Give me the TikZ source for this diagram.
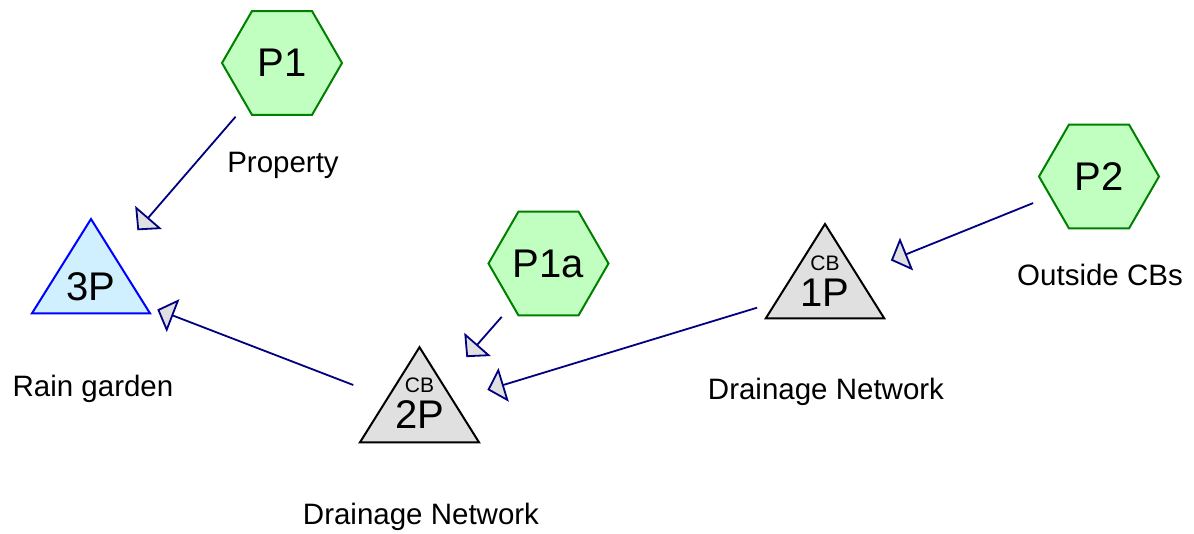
\documentclass[tikz,border=0pt]{standalone}
\usepackage{fontspec}
\setmainfont{Liberation Sans}
\usetikzlibrary{shapes.geometric,arrows.meta}
\definecolor{hexfill}{HTML}{C0FFC0}
\definecolor{hexline}{HTML}{008000}
\definecolor{rgfill}{HTML}{D0F0FF}
\definecolor{rgline}{HTML}{0000FF}
\definecolor{cbfill}{HTML}{E0E0E0}
\definecolor{connline}{HTML}{000080}
\begin{document}
\begin{tikzpicture}[x=1pt,y=-1pt,
  hexnode/.style={regular polygon, regular polygon sides=6, minimum size=120pt,
    inner sep=0pt, outer sep=0pt, draw=hexline, fill=hexfill, line width=2pt,
    font=\fontsize{40}{40}\selectfont},
  rgtri/.style={draw=rgline, fill=rgfill, line width=2pt, line join=miter},
  cbtri/.style={draw=black, fill=cbfill, line width=2pt, line join=miter},
  bigtxt/.style={inner sep=0pt, anchor=base, font=\fontsize{40}{40}\selectfont},
  cbtxt/.style={inner sep=0pt, anchor=base, font=\fontsize{21}{21}\selectfont},
  captxt/.style={inner sep=0pt, anchor=base, font=\fontsize{29.5}{29.5}\selectfont},
  conn/.style={draw=connline, line width=1.8pt, shorten <=71pt, shorten >=71pt,
    -{Triangle[length=17pt,width=35pt,fill=cbfill]}}
]
\useasboundingbox (0,0) rectangle (1194,533);

% hexagons
\node[hexnode] (P1) at (282,63) {P1};
\node[hexnode] (P1a) at (548.5,263.5) {P1a};
\node[hexnode] (P2) at (1099,176.5) {P2};

% triangles
\coordinate (n3P) at (91,284);
\coordinate (n2P) at (419.5,410.5);
\coordinate (n1P) at (825,287);
\draw[rgtri, shift={(n3P)}] (0,-65) -- (59,29.3) -- (-59,29.3) -- cycle;
\draw[cbtri, shift={(n2P)}] (0,-63.3) -- (59.5,31.8) -- (-59.5,31.8) -- cycle;
\draw[cbtri, shift={(n1P)}] (0,-63) -- (59.2,31.3) -- (-59.2,31.3) -- cycle;

\node[bigtxt] (t3P) at (91,300) {3P};
\node[cbtxt] (c2P) at (419.5,392.5) {CB};
\node[bigtxt] (t2P) at (419.5,428) {2P};
\node[cbtxt] (c1P) at (825,270) {CB};
\node[bigtxt] (t1P) at (825,306) {1P};

% captions
\node[captxt] (lP1) at (283,172) {Property};
\node[captxt] (l3P) at (93,396) {Rain garden};
\node[captxt] (lP2) at (1100,285) {Outside CBs};
\node[captxt] (l1P) at (826,399) {Drainage Network};
\node[captxt] (l2P) at (421,524) {Drainage Network};

% connectors
\draw[conn] (P1.center) -- (n3P);
\draw[conn] (n2P) -- (n3P);
\draw[conn] (P1a.center) -- (n2P);
\draw[conn] (n1P) -- (n2P);
\draw[conn] (P2.center) -- (n1P);
\end{tikzpicture}
\end{document}
